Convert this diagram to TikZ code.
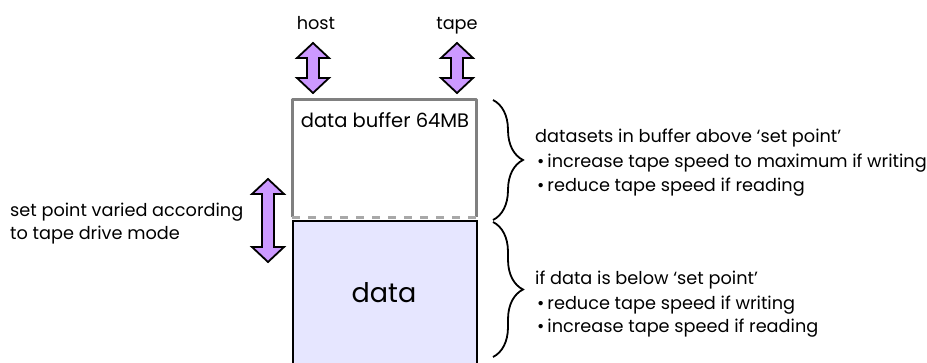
\documentclass[tikz,border=0pt]{standalone}
\usepackage{fontspec}
\setmainfont{Poppins}
\usetikzlibrary{decorations.pathreplacing}
\definecolor{arrpurple}{HTML}{CC99FF}
\definecolor{datafill}{HTML}{E6E6FF}
\definecolor{bufgray}{HTML}{808080}
\definecolor{dashgray}{HTML}{A8A8A8}
\tikzset{
  txt/.style={anchor=base west, inner sep=0pt, font=\fontsize{17.7}{21}\selectfont},
  ctxt/.style={anchor=base, inner sep=0pt, font=\fontsize{17.7}{21}\selectfont},
  blockarrow/.style={draw=black, line width=1.8pt, fill=arrpurple, line join=miter},
  bracestyle/.style={draw=black, line width=1.8pt, decorate, decoration={brace, amplitude=30pt}},
}
\newcommand\dblarrow[3]{% x center, y top, y bottom
  \path[blockarrow] (#1,#2) -- (#1+16,#2+15) -- (#1+6,#2+15) -- (#1+6,#3-15) -- (#1+16,#3-15)
    -- (#1,#3) -- (#1-16,#3-15) -- (#1-6,#3-15) -- (#1-6,#2+15) -- (#1-16,#2+15) -- cycle;}
\begin{document}
\begin{tikzpicture}[x=1pt,y=-1pt]
\useasboundingbox (0,0) rectangle (927,363);
% buffer
\node[minimum width=184pt, minimum height=117pt, anchor=north west, inner sep=0pt] (buf) at (292,100) {};
\draw[bufgray, line width=3pt, line join=round] (buf.south west) -- (buf.north west) -- (buf.north east) -- (buf.south east);
\draw[dashgray, line width=3pt, dash pattern=on 8pt off 8pt] (buf.south west) -- (buf.south east);
\node[draw=black, line width=1.8pt, fill=datafill, minimum width=184pt, minimum height=143pt, anchor=north west, inner sep=0pt] (data) at (292,220) {};
\node[anchor=base, inner sep=0pt, font=\fontsize{19.5}{23}\selectfont] (buflab) at (385,128) {data buffer 64MB};
\node[anchor=base, inner sep=0pt, font=\fontsize{27}{31}\selectfont] (datalab) at (384,303) {data};
% arrows
\dblarrow{313}{43}{93}
\dblarrow{457}{43}{93}
\dblarrow{268}{179}{262}
\node[ctxt] (host) at (316,30) {host};
\node[ctxt] (tape) at (457,30) {tape};
\node[txt] (sp1) at (10,217) {set point varied according};
\node[txt] (sp2) at (10,240) {to tape drive mode};
% braces
\draw[bracestyle] (493,100) -- (493,220);
\draw[bracestyle] (493,222) -- (493,357);
\node[txt] (u1) at (535,143) {datasets in buffer above ‘set point’};
\node[txt] (u2) at (537,168) {•\,increase tape speed to maximum if writing};
\node[txt] (u3) at (537,192) {•\,reduce tape speed if reading};
\node[txt] (l1) at (535,285) {if data is below ‘set point’};
\node[txt] (l2) at (537,310) {•\,reduce tape speed if writing};
\node[txt] (l3) at (537,333) {•\,increase tape speed if reading};
\end{tikzpicture}
\end{document}
